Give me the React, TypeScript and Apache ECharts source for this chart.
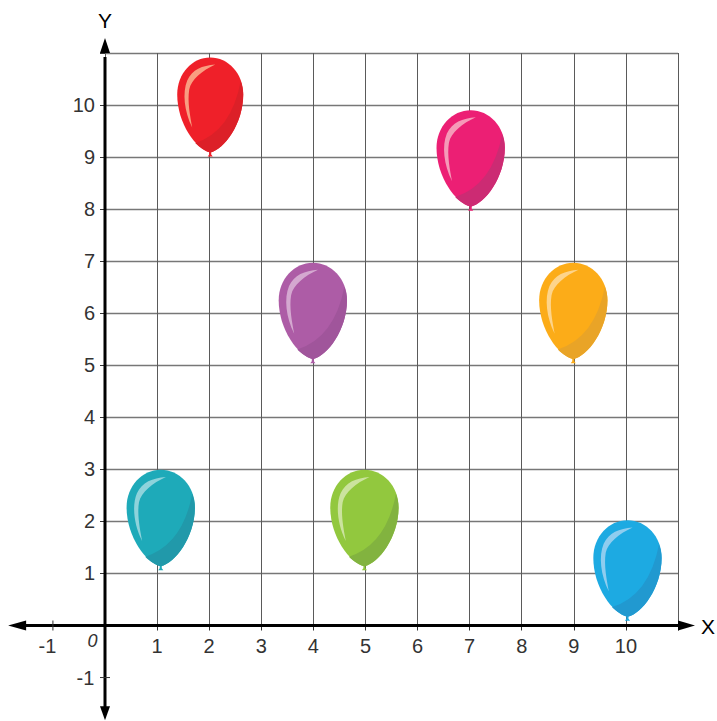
import React, { useEffect, useRef } from "react";
import * as echarts from "echarts";

const balloonX = [2.02, 7.02, 3.99, 8.99, 1.07, 4.98, 10.03];
const balloonY = [9.01, 7.97, 5.04, 5.04, 1.06, 1.06, 0.09];
const bodyColors = ["#EF2029", "#EC1F74", "#AD5CA6", "#FCAC18", "#1EAAB9", "#92C83E", "#1DAAE2"];
const shadeColors = ["#DC2028", "#CC2B73", "#A0559B", "#E9A427", "#2199AA", "#82B33F", "#2199D0"];
const shineColors = ["#F99D80", "#F59AB8", "#D4A8D0", "#FDD48B", "#8ED3DB", "#CBE39E", "#8FCDEF"];
const xTicks = [1, 2, 3, 4, 5, 6, 7, 8, 9, 10];
const yTicks = [1, 2, 3, 4, 5, 6, 7, 8, 9, 10];
const font = "Liberation Sans";

const BODY = "M0,-4 C-14,-7 -33,-33 -33,-62 C-33,-83 -18,-99 0,-99 C18,-99 33,-83 33,-62 C33,-33 14,-7 0,-4 Z";
const SHADE = "M-15,-13.5 Q21,-25 30.5,-75.5 C32,-71 33,-66.5 33,-62 C33,-33 14,-7 0,-4 C-5,-5.2 -10.5,-9 -15,-13.5 Z";
const SHINE = "M5,-92 C-8,-91 -18,-87 -23,-76 C-28,-64 -26,-45 -18,-29 C-20,-40 -23,-55 -21,-67 C-19,-77 -8,-86 5,-92 Z";
const KNOT = "M-2.5,0 L2.5,0 L1,-2 L1,-5 L-1,-5 L-1,-2 Z";

echarts.graphic.registerShape("balloonBody", echarts.graphic.extendPath(BODY, {}) as any);
echarts.graphic.registerShape("balloonShade", echarts.graphic.extendPath(SHADE, {}) as any);
echarts.graphic.registerShape("balloonShine", echarts.graphic.extendPath(SHINE, {}) as any);
echarts.graphic.registerShape("balloonKnot", echarts.graphic.extendPath(KNOT, {}) as any);

export default function App() {
  const ref = useRef<HTMLDivElement>(null);
  useEffect(() => {
    document.body.style.margin = "0";
    const chart = echarts.init(ref.current!, undefined, { renderer: "svg" });
    const thick = { stroke: "#000", lineWidth: 3 };
    const head = "#000";
    chart.setOption({
      animation: false,
      grid: { left: 105, right: 39, top: 53, bottom: 95.5, containLabel: false },
      xAxis: {
        type: "value", min: 0, max: 11, interval: 1,
        axisLine: { show: false },
        axisTick: { show: true, length: 5, lineStyle: { color: "#333", width: 1 } },
        splitLine: { show: true, lineStyle: { color: "#5a5a5a", width: 1 } },
        axisLabel: {
          margin: 10, fontFamily: font, fontSize: 20, color: "#333",
          formatter: (v: number) => (xTicks.includes(v) ? String(v) : ""),
        },
      },
      yAxis: {
        type: "value", min: 0, max: 11, interval: 1,
        axisLine: { show: false },
        axisTick: { show: true, length: 5, lineStyle: { color: "#333", width: 1 } },
        splitLine: { show: true, lineStyle: { color: "#777", width: 1.4 } },
        axisLabel: {
          margin: 10, fontFamily: font, fontSize: 20, color: "#333",
          formatter: (v: number) => (yTicks.includes(v) ? String(v) : ""),
        },
      },
      series: [
        {
          type: "custom",
          coordinateSystem: "cartesian2d",
          clip: false,
          silent: true,
          z: 3,
          data: [[0, 0]],
          renderItem: (_p: any, api: any) => {
            const c = (x: number, y: number) => api.coord([x, y]);
            const [ox, oy] = c(0, 0);
            const [rx] = c(11, 0);
            const [lx] = c(-1.86, 0);
            const [, ty] = c(0, 11);
            const [, by] = c(0, -1.82);
            const [m1x] = c(-1, 0);
            const [, m1y] = c(0, -1);
            const text = (x: number, y: number, t: string, size: number, extra: any = {}) => ({
              type: "text",
              style: { x, y, text: t, fontFamily: font, fontSize: size, fill: "#333", align: "center", verticalAlign: "middle", ...extra },
            });
            return {
              type: "group",
              children: [
                { type: "line", shape: { x1: lx + 10, y1: oy, x2: rx + 4, y2: oy }, style: thick },
                { type: "line", shape: { x1: ox, y1: ty + 4, x2: ox, y2: by - 8 }, style: thick },
                { type: "polygon", shape: { points: [[lx, oy], [lx + 18, oy - 5], [lx + 18, oy + 5]] }, style: { fill: head } },
                { type: "polygon", shape: { points: [[rx + 17, oy], [rx, oy - 5], [rx, oy + 5]] }, style: { fill: head } },
                { type: "polygon", shape: { points: [[ox, ty - 15], [ox - 5, ty], [ox + 5, ty]] }, style: { fill: head } },
                { type: "polygon", shape: { points: [[ox, by], [ox - 5, by - 14], [ox + 5, by - 14]] }, style: { fill: head } },
                { type: "line", shape: { x1: m1x, y1: oy - 5, x2: m1x, y2: oy + 5 }, style: { stroke: "#333", lineWidth: 1 } },
                { type: "line", shape: { x1: ox - 5, y1: m1y, x2: ox + 5, y2: m1y }, style: { stroke: "#333", lineWidth: 1 } },
                text(m1x - 5.5, oy + 20, "-1", 20),
                text(ox - 19.5, m1y, "-1", 20),
                text(ox - 12.5, oy + 15, "0", 18, { fontStyle: "italic" }),
                text(rx + 30, oy + 1, "X", 21, { fill: "#000" }),
                text(ox, 20, "Y", 21, { fill: "#000" }),
              ],
            };
          },
        },
        {
          type: "custom",
          coordinateSystem: "cartesian2d",
          clip: false,
          silent: true,
          z: 4,
          data: balloonX.map((x, i) => [x, balloonY[i]]),
          renderItem: (p: any, api: any) => {
            const i = p.dataIndex;
            const [x, y] = api.coord([api.value(0), api.value(1)]);
            return {
              type: "group",
              x,
              y,
              scaleX: i === 0 ? 1 : 1.035,
              scaleY: i === 0 ? 1 : 1.015,
              children: [
                { type: "balloonKnot", style: { fill: bodyColors[i] } },
                { type: "balloonBody", style: { fill: bodyColors[i] } },
                { type: "balloonShade", style: { fill: shadeColors[i] } },
                { type: "balloonShine", style: { fill: shineColors[i] } },
              ],
            };
          },
        },
      ],
    });
    return () => chart.dispose();
  }, []);
  return <div ref={ref} style={{ width: 717, height: 721 }} />;
}
